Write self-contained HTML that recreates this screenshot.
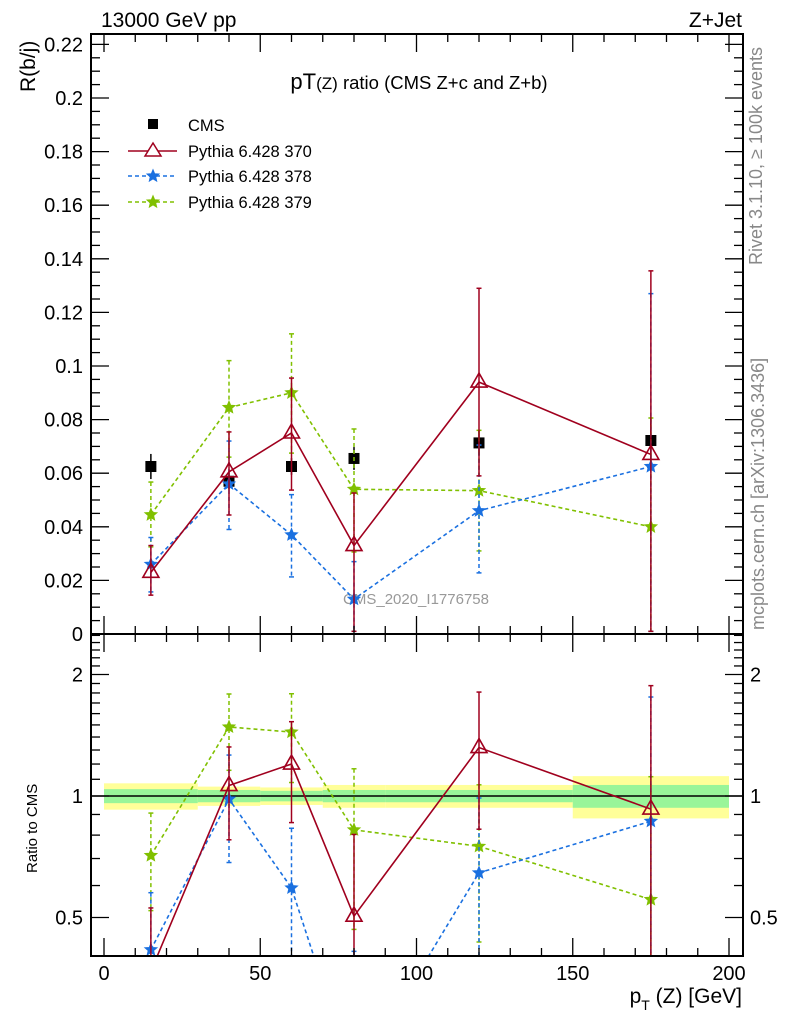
<!DOCTYPE html>
<html><head><meta charset="utf-8"><style>
html,body{margin:0;padding:0;background:#fff;overflow:hidden;width:786px;height:1024px;}
svg{display:block;font-family:"Liberation Sans",sans-serif;}
</style></head><body>
<svg id="chart" width="786" height="1024" viewBox="0 0 786 1024">
<defs>
<clipPath id="clipMain"><rect x="91" y="34" width="652" height="600"/></clipPath>
<clipPath id="clipRatio"><rect x="91" y="634" width="652" height="322"/></clipPath>
</defs>
<text x="101" y="27" font-size="21">13000 GeV pp</text>
<text x="742" y="27" font-size="21" text-anchor="end">Z+Jet</text>
<text x="419" y="89" font-size="22" text-anchor="middle">pT<tspan font-size="17">(Z)</tspan><tspan font-size="18.5"> ratio (CMS  Z+c and Z+b)</tspan></text>
<text transform="translate(35,92) rotate(-90)" font-size="21">R(b/j)</text>
<text transform="translate(37,873) rotate(-90)" font-size="15">Ratio to CMS</text>
<text x="742" y="1003" font-size="21" text-anchor="end">p<tspan font-size="14" dy="7">T</tspan><tspan dy="-7"> (Z) [GeV]</tspan></text>
<text transform="translate(762,265) rotate(-90)" font-size="18" fill="#888">Rivet 3.1.10, ≥ 100k events</text>
<text transform="translate(764,630) rotate(-90)" font-size="18" fill="#888">mcplots.cern.ch [arXiv:1306.3436]</text>
<text x="416" y="604" font-size="15" fill="#999" text-anchor="middle">CMS_2020_I1776758</text>
<g id="legend">
<rect x="148" y="119" width="10" height="10" fill="#000"/>
<text x="188" y="131" font-size="16.5">CMS</text>
<line x1="128" y1="151" x2="177" y2="151" stroke="#a0001e" stroke-width="1.5"/>
<polygon points="153,143 161,156 145,156" fill="#fff" stroke="#a0001e" stroke-width="1.5"/>
<text x="188" y="157" font-size="16.5">Pythia 6.428 370</text>
<line x1="128" y1="176" x2="177" y2="176" stroke="#1a70e0" stroke-width="1.5" stroke-dasharray="4,3"/>
<g id="leg378"></g>
<text x="188" y="182" font-size="16.5">Pythia 6.428 378</text>
<line x1="128" y1="202" x2="177" y2="202" stroke="#80c000" stroke-width="1.5" stroke-dasharray="4,3"/>
<g id="leg379"></g>
<text x="188" y="208" font-size="16.5">Pythia 6.428 379</text>
</g>
<g id="marks"></g>
<g id="axes"></g>
</svg>
<script>
const xs = [15, 40, 60, 80, 120, 175];
const binEdges = [0, 30, 50, 70, 90, 150, 200];
const cmsVals = [0.0625, 0.057, 0.0625, 0.0655, 0.0713, 0.0722];
const cmsStatRel = [0.04, 0.035, 0.03, 0.035, 0.035, 0.065];
const cmsTotRel = [0.075, 0.055, 0.05, 0.065, 0.065, 0.12];
const p370 = [0.023, 0.0605, 0.075, 0.033, 0.094, 0.067];
const p370Up = [0.033, 0.0754, 0.0955, 0.0526, 0.129, 0.1355];
const p370Dn = [0.0145, 0.0444, 0.0537, 0.0, 0.059, 0.0];
const p378 = [0.026, 0.056, 0.037, 0.013, 0.046, 0.0625];
const p378Up = [0.036, 0.072, 0.052, 0.027, 0.0705, 0.127];
const p378Dn = [0.0157, 0.039, 0.0213, 0.0, 0.0228, 0.0];
const p379 = [0.0445, 0.0845, 0.090, 0.054, 0.0535, 0.040];
const p379Up = [0.0567, 0.102, 0.112, 0.0765, 0.076, 0.0806];
const p379Dn = [0.0325, 0.066, 0.0675, 0.0306, 0.031, 0.0];
const yTicks = [0, 0.02, 0.04, 0.06, 0.08, 0.1, 0.12, 0.14, 0.16, 0.18, 0.2, 0.22];
const yTickLabels = ["0","0.02","0.04","0.06","0.08","0.1","0.12","0.14","0.16","0.18","0.2","0.22"];
const xTicks = [0, 50, 100, 150, 200];
const rTicks = [0.5, 1, 2];
const rTickLabels = ["0.5", "1", "2"];

const NS = "http://www.w3.org/2000/svg";
const X = v => 104 + v * 3.125;
const Y = v => 634 - v * 2680;
const R = v => 796 - Math.log2(v) * 121.5;
const marks = document.getElementById('marks');
const axes = document.getElementById('axes');
function el(tag, attrs, parent) {
  const e = document.createElementNS(NS, tag);
  for (const k in attrs) e.setAttribute(k, attrs[k]);
  parent.appendChild(e);
  return e;
}
const gMain = el('g', {'clip-path': 'url(#clipMain)'}, marks);


const gRatio = el('g', {'clip-path': 'url(#clipRatio)'}, marks);



for (let i = 0; i < xs.length; i++) {
  const x0 = X(binEdges[i]), x1 = X(binEdges[i + 1]);
  const t = el('rect', {x: x0, y: R(1 + cmsTotRel[i]), width: x1 - x0, height: R(1 - cmsTotRel[i]) - R(1 + cmsTotRel[i]), fill: '#ffff99'}, gRatio);
  
  
}
for (let i = 0; i < xs.length; i++) {
  const x0 = X(binEdges[i]), x1 = X(binEdges[i + 1]);
  const s = el('rect', {x: x0, y: R(1 + cmsStatRel[i]), width: x1 - x0, height: R(1 - cmsStatRel[i]) - R(1 + cmsStatRel[i]), fill: '#99f599'}, gRatio);
  
  
}
const ref = el('line', {x1: 91, x2: 743, y1: R(1), y2: R(1), stroke: '#000', 'stroke-width': 1.5}, gRatio);



function star(cx, cy, r, color, parent, name) {
  let pts = [];
  for (let k = 0; k < 10; k++) {
    const a = -Math.PI / 2 + k * Math.PI / 5;
    const rr = k % 2 ? r * 0.45 : r;
    pts.push((cx + rr * Math.cos(a)).toFixed(1) + ',' + (cy + rr * Math.sin(a)).toFixed(1));
  }
  const p = el('polygon', {points: pts.join(' '), fill: color, stroke: color, 'stroke-width': 0.8}, parent);
  
  
}
function tri(cx, cy, color, parent, name) {
  const p = el('polygon', {points: `${cx},${cy - 9} ${cx + 8},${cy + 5} ${cx - 8},${cy + 5}`, fill: 'none', stroke: color, 'stroke-width': 1.6}, parent);
  
  
}
star(153, 176, 6.5, '#1a70e0', document.getElementById('leg378'), 'legend-378-star');
star(153, 202, 6.5, '#80c000', document.getElementById('leg379'), 'legend-379-star');
function series(vals, up, dn, color, dash, marker, name, yf, norm, parent) {
  const v = vals.map((d, i) => d / norm[i]);
  const u = up.map((d, i) => d / norm[i]);
  const l = dn.map((d, i) => Math.max(d / norm[i], 0.001));
  for (let i = 0; i < xs.length; i++) {
    const x = X(xs[i]);
    const e = el('line', {x1: x, x2: x, y1: yf(u[i]), y2: yf(l[i]), stroke: color, 'stroke-width': 1.5, 'stroke-dasharray': dash}, parent);
    
    
    el('line', {x1: x - 2.5, x2: x + 2.5, y1: yf(u[i]), y2: yf(u[i]), stroke: color, 'stroke-width': 1.5}, parent);
    el('line', {x1: x - 2.5, x2: x + 2.5, y1: yf(l[i]), y2: yf(l[i]), stroke: color, 'stroke-width': 1.5}, parent);
  }
  const pl = el('polyline', {points: v.map((d, i) => X(xs[i]) + ',' + yf(d)).join(' '), fill: 'none', stroke: color, 'stroke-width': 1.6, 'stroke-dasharray': dash}, parent);
  
  
  for (let i = 0; i < xs.length; i++) {
    if (marker === 'tri') tri(X(xs[i]), yf(v[i]), color, parent, name + '-point');
    else star(X(xs[i]), yf(v[i]), 6.5, color, parent, name + '-point');
  }
}
const ones = xs.map(() => 1);
for (let i = 0; i < xs.length; i++) {
  const x = X(xs[i]);
  const e = el('line', {x1: x, x2: x, y1: Y(cmsVals[i] * (1 + cmsTotRel[i])), y2: Y(cmsVals[i] * (1 - cmsTotRel[i])), stroke: '#000', 'stroke-width': 1.5}, gMain);
  
  
  const r = el('rect', {x: x - 5.5, y: Y(cmsVals[i]) - 5.5, width: 11, height: 11, fill: '#000'}, gMain);
  
  
}
series(p379, p379Up, p379Dn, '#80c000', '4,3', 'star', 'pythia-379', Y, ones, gMain);
series(p378, p378Up, p378Dn, '#1a70e0', '4,3', 'star', 'pythia-378', Y, ones, gMain);
series(p370, p370Up, p370Dn, '#a0001e', 'none', 'tri', 'pythia-370', Y, ones, gMain);
series(p379, p379Up, p379Dn, '#80c000', '4,3', 'star', 'ratio-379', R, cmsVals, gRatio);
series(p378, p378Up, p378Dn, '#1a70e0', '4,3', 'star', 'ratio-378', R, cmsVals, gRatio);
series(p370, p370Up, p370Dn, '#a0001e', 'none', 'tri', 'ratio-370', R, cmsVals, gRatio);

const f1 = el('rect', {x: 91, y: 34, width: 652, height: 600, fill: 'none', stroke: '#000', 'stroke-width': 2}, axes);


const f2 = el('rect', {x: 91, y: 634, width: 652, height: 322, fill: 'none', stroke: '#000', 'stroke-width': 2}, axes);


function tl(x1, y1, x2, y2) { el('line', {x1, y1, x2, y2, stroke: '#000', 'stroke-width': 1.3}, axes); }
for (let v = 0; v <= 0.2236; v += 0.005) {
  const y = Y(v); const maj = Math.abs(v / 0.02 - Math.round(v / 0.02)) < 1e-6;
  const L = maj ? 18 : 9;
  tl(91, y, 91 + L, y); tl(743, y, 743 - L, y);
}
yTicks.forEach((v, i) => {
  const t = el('text', {x: 83, y: Y(v) + 7, 'font-size': 20, 'text-anchor': 'end'}, axes);
  t.textContent = yTickLabels[i];
  
  
});
for (let v = 0; v <= 200; v += 10) {
  const x = X(v); const maj = v % 50 === 0; const L = maj ? 18 : 8;
  tl(x, 34, x, 34 + L); tl(x, 634, x, 634 - L); tl(x, 634, x, 634 + L); tl(x, 956, x, 956 - L);
}
xTicks.forEach(v => {
  const t = el('text', {x: X(v), y: 980, 'font-size': 20, 'text-anchor': 'middle'}, axes);
  t.textContent = String(v);
  
  
});
const rMinor = [0.5,0.6,0.7,0.8,0.9,1,1.1,1.2,1.3,1.4,1.5,1.6,1.7,1.8,1.9,2,2.1,2.2,2.3,2.4,2.5];
rMinor.forEach(v => {
  const y = R(v); if (y < 635 || y > 955) return;
  const L = rTicks.includes(v) ? 18 : 9;
  tl(91, y, 91 + L, y); tl(743, y, 743 - L, y);
});
rTicks.forEach((v, i) => {
  const t = el('text', {x: 83, y: R(v) + 7, 'font-size': 20, 'text-anchor': 'end'}, axes);
  t.textContent = rTickLabels[i];
  
  
  const t2 = el('text', {x: 750, y: R(v) + 7, 'font-size': 20}, axes);
  t2.textContent = rTickLabels[i];
  
  
});
</script>
</body></html>
